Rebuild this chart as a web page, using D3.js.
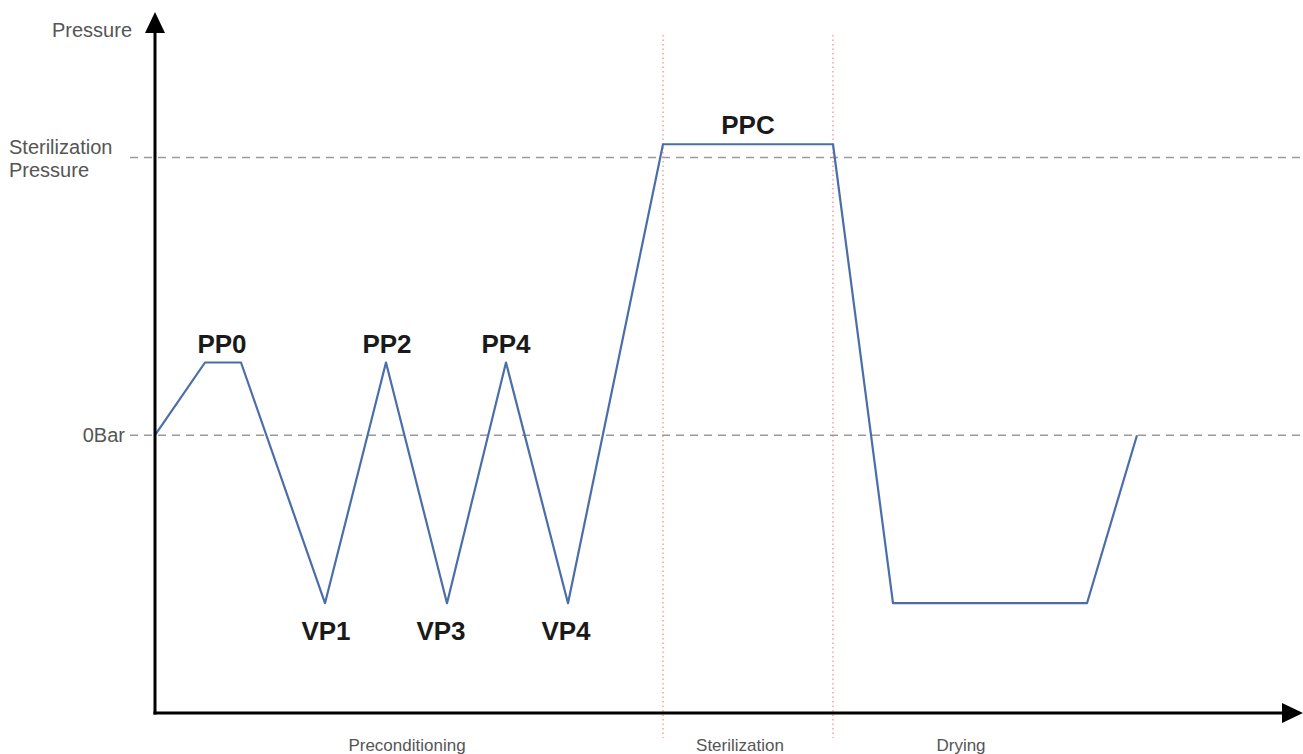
<!DOCTYPE html>
<html>
<head>
<meta charset="utf-8">
<title>Pressure cycle</title>
<script src="https://d3js.org/d3.v7.min.js"></script>
<style>
  body { margin: 0; background: #fff; font-family: "Liberation Sans", Arial, sans-serif; }
</style>
</head>
<body>
<div id="chart"></div>
<script>
// time (arbitrary units) and pressure (bar) of the cycle corners
var times     = [0, 10, 17.2, 34, 46.2, 58.4, 70.2, 82.6, 101.6, 135.6, 147.6, 186.4, 196.4];
var pressures = [0, 0.55, 0.55, -1.27, 0.55, -1.27, 0.55, -1.27, 2.2, 2.2, -1.27, -1.27, 0];

// point labels
var peakNames  = ["PP0", "PP2", "PP4", "VP1", "VP3", "VP4", "PPC"];
var peakTimes  = [13.4, 46.4, 70.2, 34.2, 57.2, 82.2, 118.6];
var peakLevels = [0.55, 0.55, 0.55, -1.27, -1.27, -1.27, 2.2];
var peakAbove  = [true, true, true, false, false, false, true];

// reference levels
var levelNames  = [["0Bar"], ["Sterilization", "Pressure"]];
var levelValues = [0, 2.1];

// phase boundaries and phase names
var phaseBounds = [101.6, 135.6];
var phaseNames  = ["Preconditioning", "Sterilization", "Drying"];
var phaseMids   = [50.4, 117, 161.2];

var W = 1303, H = 754;
var x0 = 155, y0 = 713;

var x = d3.scaleLinear().domain([0, 229]).range([x0, 1300]);
var y = d3.scaleLinear().domain([-2.1, 3.2]).range([y0, 12]);

var svg = d3.select("#chart").append("svg")
    .attr("width", W).attr("height", H);

// dashed reference lines
levelValues.forEach(function(v, i) {
  svg.append("line")
      .attr("x1", 130).attr("x2", 1300)
      .attr("y1", y(v)).attr("y2", y(v))
      .attr("stroke", "#9a9a9a")
      .attr("stroke-width", 1.4)
      .attr("stroke-dasharray", "8,6");
  var lines = levelNames[i];
  if (lines.length == 1) {
    svg.append("text")
        .attr("x", 125).attr("y", y(v) + 7)
        .attr("text-anchor", "end")
        .attr("font-size", 20).attr("fill", "#555")
        .text(lines[0]);
  } else {
    lines.forEach(function(t, j) {
      svg.append("text")
          .attr("x", 9).attr("y", y(v) - 3 + j * 23)
          .attr("font-size", 20).attr("fill", "#555")
          .text(t);
    });
  }
});

// red dotted phase boundaries
phaseBounds.forEach(function(t) {
  svg.append("line")
      .attr("x1", x(t)).attr("x2", x(t))
      .attr("y1", 35).attr("y2", 738)
      .attr("stroke", "#f08a8a")
      .attr("stroke-width", 1.2)
      .attr("stroke-dasharray", "1.5,3");
});

// pressure curve
var pts = times.map(function(t, i) { return [t, pressures[i]]; });
var line = d3.line()
    .x(function(d) { return x(d[0]); })
    .y(function(d) { return y(d[1]); });

svg.append("path")
    .datum(pts)
    .attr("d", line)
    .attr("fill", "none")
    .attr("stroke", "#4a6ea8")
    .attr("stroke-width", 2.2)
    .attr("stroke-linejoin", "round");

// axes with arrows
svg.append("line")
    .attr("x1", x0).attr("x2", x0)
    .attr("y1", y0 + 1.5).attr("y2", 28)
    .attr("stroke", "#000").attr("stroke-width", 3);
svg.append("line")
    .attr("x1", x0 - 1.5).attr("x2", 1288)
    .attr("y1", y0).attr("y2", y0)
    .attr("stroke", "#000").attr("stroke-width", 3);
svg.append("path")
    .attr("d", "M" + x0 + ",12 L" + (x0 - 10) + ",33 L" + (x0 + 10) + ",33 Z")
    .attr("fill", "#000");
svg.append("path")
    .attr("d", "M1303," + y0 + " L1282," + (y0 - 10) + " L1282," + (y0 + 10) + " Z")
    .attr("fill", "#000");

svg.append("text")
    .attr("x", 132).attr("y", 37)
    .attr("text-anchor", "end")
    .attr("font-size", 20).attr("fill", "#555")
    .text("Pressure");

// phase names
phaseNames.forEach(function(n, i) {
  svg.append("text")
      .attr("x", x(phaseMids[i])).attr("y", 751)
      .attr("text-anchor", "middle")
      .attr("font-size", 17).attr("fill", "#555")
      .text(n);
});

// peak labels
peakNames.forEach(function(n, i) {
  svg.append("text")
      .attr("x", x(peakTimes[i]))
      .attr("y", peakAbove[i] ? y(peakLevels[i]) - 10 : y(peakLevels[i]) + 37)
      .attr("text-anchor", "middle")
      .attr("font-size", 26).attr("font-weight", "bold")
      .attr("fill", "#1a1a1a")
      .text(n);
});
</script>
</body>
</html>
